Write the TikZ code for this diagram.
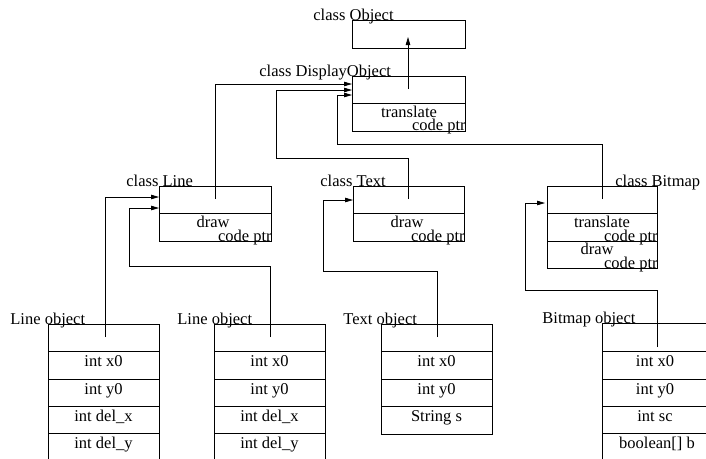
\documentclass[tikz,border=0pt]{standalone}
\usepackage{fontspec}
\setmainfont{Liberation Serif}
\usetikzlibrary{arrows.meta}
\begin{document}
\begin{tikzpicture}[x=1pt,y=-1pt,line width=0.8pt,
  fnt/.style={font=\fontsize{16.5}{18}\selectfont, inner sep=0pt},
  lbl/.style={fnt, anchor=base west},
  ctxt/.style={fnt, anchor=base},
  rtxt/.style={fnt, anchor=base east},
  box/.style={draw, rectangle, inner sep=0pt, anchor=north west},
  conn/.style={-{Triangle[length=8pt,width=4.5pt]}}]
\clip (0,0) rectangle (706,458);
% ---------- class boxes ----------
\node[box, minimum width=113pt, minimum height=28pt] (obj) at (352,20) {};
\node[box, minimum width=113pt, minimum height=55pt] (disp) at (352,76) {};
\draw (352,103) -- (465,103);
\node[box, minimum width=112pt, minimum height=55pt] (cline) at (159,186) {};
\draw (159,213) -- (271,213);
\node[box, minimum width=111pt, minimum height=55pt] (ctext) at (353,186) {};
\draw (353,213) -- (464,213);
\node[box, minimum width=110pt, minimum height=82pt] (cbmp) at (547,186) {};
\draw (547,213) -- (657,213);
\draw (547,241) -- (657,241);
% ---------- object boxes ----------
\node[box, minimum width=111pt, minimum height=140pt] (lo1) at (48,324) {};
\node[box, minimum width=111pt, minimum height=140pt] (lo2) at (214,324) {};
\node[box, minimum width=111pt, minimum height=110pt] (tobj) at (381,324) {};
\node[box, minimum width=111pt, minimum height=140pt] (bobj) at (602,323) {};
\foreach \x in {48,214} {
  \foreach \y in {351,379,406,433} { \draw (\x,\y) -- ++(111,0); }
}
\foreach \y in {351,379,406} { \draw (381,\y) -- ++(111,0); }
\foreach \y in {351,379,406,433} { \draw (602,\y) -- ++(111,0); }
% ---------- labels ----------
\node[lbl] (lObj) at (313,20) {class Object};
\node[lbl] (lDisp) at (259,76) {class DisplayObject};
\node[lbl] (lLine) at (126,186) {class Line};
\node[lbl] (lText) at (320,186) {class Text};
\node[lbl] (lBmp) at (615,186) {class Bitmap};
\node[lbl] (lLo1) at (10,324) {Line object};
\node[lbl] (lLo2) at (177,324) {Line object};
\node[lbl] (lTo) at (343,324) {Text object};
\node[lbl] (lBo) at (542,323) {Bitmap object};
% ---------- compartment texts ----------
\node[ctxt] (dTr) at (409,117) {translate};
\node[rtxt] (dCp) at (466,130) {code ptr};
\node[ctxt] (lDr) at (213,227) {draw};
\node[rtxt] (lCp) at (272,241) {code ptr};
\node[ctxt] (tDr) at (407,227) {draw};
\node[rtxt] (tCp) at (465,241) {code ptr};
\node[ctxt] (bTr) at (602,227) {translate};
\node[rtxt] (bCp1) at (658,241) {code ptr};
\node[ctxt] (bDr) at (597,254) {draw};
\node[rtxt] (bCp2) at (658,268) {code ptr};
% ---------- row texts ----------
\foreach \cx/\nm in {103.5/a,269.5/b} {
  \node[ctxt] (x0\nm) at (\cx,366.5) {int x0};
  \node[ctxt] (y0\nm) at (\cx,394) {int y0};
  \node[ctxt] (dx\nm) at (\cx,421.5) {int del\_x};
  \node[ctxt] (dy\nm) at (\cx,448.5) {int del\_y};
}
\node[ctxt] (x0t) at (436.5,366.5) {int x0};
\node[ctxt] (y0t) at (436.5,394) {int y0};
\node[ctxt] (st) at (436.5,421.5) {String s};
\node[ctxt] (x0bm) at (655,366.5) {int x0};
\node[ctxt] (y0bm) at (655,394) {int y0};
\node[ctxt] (scbm) at (655,421.5) {int sc};
\node[ctxt] (bbm) at (657,448.5) {boolean[] b};
% ---------- connector points ----------
\coordinate (dispUp) at (408,89);
\coordinate (objIn) at (408,37);
\coordinate (dispIn1) at (352,84);
\coordinate (dispIn2) at (352,90);
\coordinate (dispIn3) at (352,95);
\coordinate (lineUp) at (215,199);
\coordinate (textUp) at (408,199);
\coordinate (textK1) at (408,158);
\coordinate (textK2) at (276,158);
\coordinate (bmpUp) at (602,199);
\coordinate (bmpK1) at (602,144);
\coordinate (bmpK2) at (337,144);
\coordinate (lineIn1) at (159,197);
\coordinate (lineIn2) at (159,208);
\coordinate (textIn) at (353,200);
\coordinate (bmpIn) at (545,203);
\coordinate (lo1Up) at (105,337);
\coordinate (lo2Up) at (270,337);
\coordinate (lo2K1) at (270,266);
\coordinate (lo2K2) at (129,266);
\coordinate (toUp) at (437,337);
\coordinate (toK1) at (437,271);
\coordinate (toK2) at (323,271);
\coordinate (boUp) at (657,347);
\coordinate (boK1) at (657,290);
\coordinate (boK2) at (525,290);
% ---------- connectors ----------
\draw[conn] (dispUp) -- (objIn);
\draw[conn] (lineUp) |- (dispIn1);
\draw[conn] (textUp) -- (textK1) -- (textK2) |- (dispIn2);
\draw[conn] (bmpUp) -- (bmpK1) -- (bmpK2) |- (dispIn3);
\draw[conn] (lo1Up) |- (lineIn1);
\draw[conn] (lo2Up) -- (lo2K1) -- (lo2K2) |- (lineIn2);
\draw[conn] (toUp) -- (toK1) -- (toK2) |- (textIn);
\draw[conn] (boUp) -- (boK1) -- (boK2) |- (bmpIn);
\end{tikzpicture}
\end{document}
